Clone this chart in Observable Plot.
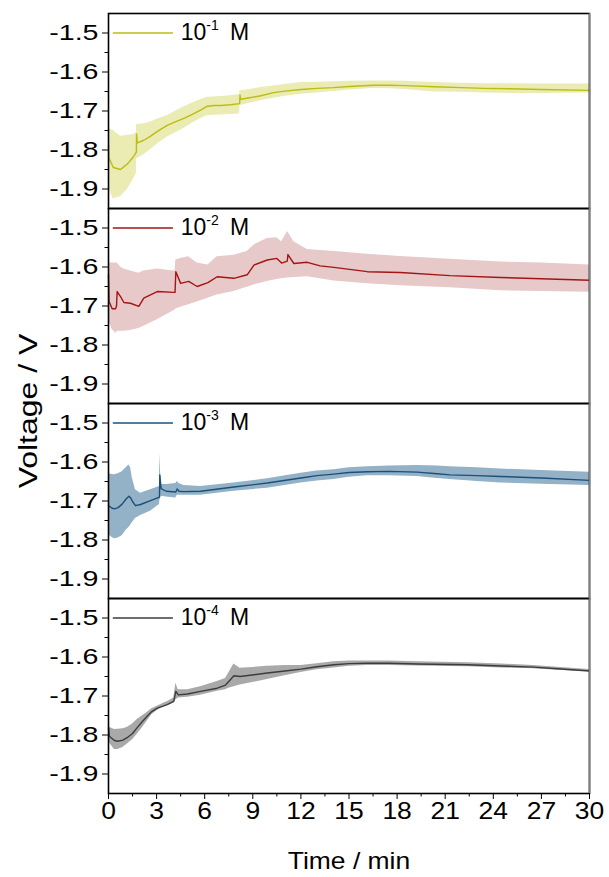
<!DOCTYPE html>
<html>
<head>
<meta charset="utf-8">
<script src="https://cdn.jsdelivr.net/npm/d3@7"></script>
<script src="https://cdn.jsdelivr.net/npm/@observablehq/plot@0.6"></script>
<style>
  body { margin: 0; background: #fff; }
  #chart { width: 609px; height: 877px; }
</style>
</head>
<body>
<div id="chart"></div>
<script>
// ---- series names / legend labels ----
const seriesNames = ["c1", "c2", "c3", "c4"];
const legendLabels = ["10^-1^ M", "10^-2^ M", "10^-3^ M", "10^-4^ M"];

// ---- tick labels ----
const xTicks = [0, 3, 6, 9, 12, 15, 18, 21, 24, 27, 30];
const xMinorTicks = [1.5, 4.5, 7.5, 10.5, 13.5, 16.5, 19.5, 22.5, 25.5, 28.5];
const yTicks = [-1.5, -1.6, -1.7, -1.8, -1.9];
const yMinorTicks = [-1.55, -1.65, -1.75, -1.85];

// ---- 10^-1 M ----
const t1 =  [0, 0.02, 0.3, 0.75, 1.2, 1.58, 1.74, 1.75, 1.8, 2.2, 2.6, 3.1, 3.66, 4.2, 4.7, 5.2, 5.74, 6.15, 6.6, 7.0, 7.6, 8.18, 8.2, 8.25, 8.8, 9.5, 10.3, 11, 12, 13, 14, 15, 16.5, 17.5, 18.5, 20.3, 22, 23.4, 25, 27, 30];
const v1 =  [-1.788, -1.82, -1.845, -1.85, -1.835, -1.816, -1.805, -1.759, -1.782, -1.775, -1.765, -1.751, -1.737, -1.727, -1.719, -1.709, -1.698, -1.688, -1.686, -1.686, -1.684, -1.681, -1.659, -1.670, -1.666, -1.661, -1.653, -1.649, -1.645, -1.642, -1.640, -1.637, -1.634, -1.634, -1.635, -1.638, -1.640, -1.642, -1.643, -1.645, -1.647];
const hi1 = [-1.72, -1.745, -1.75, -1.765, -1.762, -1.76, -1.755, -1.733, -1.735, -1.733, -1.729, -1.72, -1.712, -1.70, -1.69, -1.68, -1.671, -1.665, -1.664, -1.663, -1.661, -1.658, -1.648, -1.648, -1.645, -1.640, -1.636, -1.632, -1.627, -1.626, -1.625, -1.624, -1.623, -1.623, -1.624, -1.627, -1.629, -1.630, -1.630, -1.631, -1.631];
const lo1 = [-1.86, -1.90, -1.925, -1.92, -1.90, -1.873, -1.86, -1.822, -1.822, -1.812, -1.80, -1.783, -1.767, -1.755, -1.745, -1.732, -1.719, -1.712, -1.711, -1.71, -1.709, -1.708, -1.686, -1.686, -1.680, -1.674, -1.667, -1.662, -1.657, -1.654, -1.650, -1.646, -1.642, -1.643, -1.645, -1.651, -1.652, -1.654, -1.655, -1.655, -1.654];

// ---- 10^-2 M ----
const t2 =  [0, 0.03, 0.23, 0.44, 0.5, 0.54, 0.75, 0.96, 1.37, 1.89, 2.2, 3.04, 4.07, 4.15, 4.2, 4.5, 5.0, 5.53, 6.2, 6.78, 7.82, 8.65, 9.07, 9.9, 10.5, 10.8, 11.15, 11.19, 11.56, 12.4, 13.2, 14.06, 16.14, 18.2, 21.3, 24.45, 27, 30];
const v2 =  [-1.62, -1.688, -1.707, -1.707, -1.70, -1.663, -1.676, -1.691, -1.693, -1.701, -1.68, -1.663, -1.665, -1.665, -1.612, -1.642, -1.637, -1.650, -1.640, -1.625, -1.629, -1.62, -1.595, -1.582, -1.578, -1.59, -1.585, -1.568, -1.591, -1.588, -1.597, -1.601, -1.612, -1.614, -1.622, -1.627, -1.630, -1.634];
const hi2 = [-1.59, -1.59, -1.59, -1.59, -1.59, -1.59, -1.60, -1.605, -1.61, -1.616, -1.61, -1.605, -1.61, -1.61, -1.582, -1.578, -1.574, -1.59, -1.595, -1.574, -1.57, -1.56, -1.544, -1.527, -1.525, -1.535, -1.51, -1.51, -1.535, -1.555, -1.558, -1.56, -1.567, -1.573, -1.58, -1.587, -1.59, -1.595];
const lo2 = [-1.70, -1.74, -1.76, -1.769, -1.77, -1.765, -1.765, -1.765, -1.763, -1.758, -1.752, -1.735, -1.712, -1.71, -1.708, -1.703, -1.697, -1.69, -1.68, -1.672, -1.663, -1.652, -1.646, -1.637, -1.632, -1.63, -1.628, -1.628, -1.627, -1.625, -1.63, -1.636, -1.643, -1.648, -1.653, -1.661, -1.663, -1.665];

// ---- 10^-3 M ----
const t3 =  [0, 0.2, 0.37, 0.6, 0.85, 1.1, 1.27, 1.38, 1.48, 1.68, 2.0, 2.62, 3.18, 3.2, 3.28, 3.6, 4.2, 4.28, 4.4, 4.7, 5.74, 7.82, 9.9, 12, 13, 14.06, 15, 16.14, 17.5, 19.25, 20.5, 21.3, 23, 24.45, 27, 30];
const v3 =  [-1.712, -1.718, -1.72, -1.717, -1.708, -1.695, -1.688, -1.692, -1.70, -1.712, -1.709, -1.699, -1.69, -1.633, -1.668, -1.675, -1.677, -1.669, -1.675, -1.676, -1.675, -1.664, -1.654, -1.641, -1.635, -1.631, -1.627, -1.625, -1.624, -1.626, -1.630, -1.633, -1.635, -1.637, -1.641, -1.647];
const hi3 = [-1.629, -1.632, -1.633, -1.63, -1.625, -1.615, -1.608, -1.615, -1.64, -1.671, -1.68, -1.671, -1.663, -1.578, -1.658, -1.658, -1.655, -1.65, -1.655, -1.66, -1.663, -1.654, -1.643, -1.629, -1.623, -1.620, -1.615, -1.612, -1.610, -1.609, -1.610, -1.612, -1.615, -1.618, -1.622, -1.626];
const lo3 = [-1.786, -1.793, -1.797, -1.795, -1.789, -1.775, -1.768, -1.762, -1.756, -1.745, -1.737, -1.726, -1.709, -1.70, -1.688, -1.690, -1.692, -1.685, -1.685, -1.685, -1.685, -1.675, -1.667, -1.654, -1.649, -1.645, -1.639, -1.635, -1.635, -1.637, -1.642, -1.645, -1.650, -1.654, -1.657, -1.660];

// ---- 10^-4 M ----
const t4 =  [0, 0.05, 0.37, 0.58, 0.9, 1.16, 1.5, 1.79, 2.1, 2.41, 2.7, 3.04, 3.4, 3.66, 4.07, 4.2, 4.35, 4.93, 5.74, 6.78, 7.3, 7.5, 7.82, 8.2, 9.9, 11, 12, 13, 14.06, 15, 16.14, 17.5, 19.25, 22.4, 24.5, 26.5, 28, 30];
const v4 =  [-1.781, -1.803, -1.814, -1.816, -1.813, -1.807, -1.796, -1.781, -1.766, -1.752, -1.740, -1.731, -1.726, -1.722, -1.714, -1.688, -1.697, -1.695, -1.688, -1.680, -1.672, -1.663, -1.648, -1.650, -1.641, -1.636, -1.631, -1.625, -1.620, -1.617, -1.616, -1.616, -1.618, -1.620, -1.623, -1.626, -1.630, -1.636];
const hi4 = [-1.76, -1.78, -1.786, -1.785, -1.784, -1.781, -1.772, -1.76, -1.751, -1.742, -1.733, -1.726, -1.719, -1.715, -1.705, -1.667, -1.684, -1.684, -1.676, -1.663, -1.655, -1.641, -1.618, -1.629, -1.624, -1.622, -1.622, -1.617, -1.612, -1.610, -1.610, -1.610, -1.612, -1.615, -1.618, -1.622, -1.626, -1.632];
const lo4 = [-1.80, -1.82, -1.837, -1.837, -1.832, -1.824, -1.812, -1.798, -1.782, -1.765, -1.748, -1.737, -1.729, -1.725, -1.718, -1.71, -1.705, -1.703, -1.698, -1.688, -1.684, -1.68, -1.676, -1.672, -1.658, -1.648, -1.640, -1.633, -1.628, -1.624, -1.622, -1.622, -1.623, -1.625, -1.628, -1.630, -1.634, -1.638];

const times = [t1, t2, t3, t4];
const means = [v1, v2, v3, v4];
const highs = [hi1, hi2, hi3, hi4];
const lows  = [lo1, lo2, lo3, lo4];

const lineColors = ["#bcbc12", "#a31414", "#1d5079", "#3c3c3c"];
const bandColors = ["#ebecb3", "#e7c9c9", "#93b1c7", "#a9a9a9"];

const rows = [];
seriesNames.forEach((s, i) => {
  times[i].forEach((t, j) => rows.push({series: s, t, v: means[i][j], lo: lows[i][j], hi: highs[i][j]}));
});
const legendRows = seriesNames.map((s, i) => ({series: s, label: legendLabels[i]}));

const FONT = "'Liberation Sans', Arial, sans-serif";
const marks = [];
seriesNames.forEach((s, i) => {
  const d = rows.filter(r => r.series === s);
  marks.push(Plot.areaY(d, {x: "t", y1: "lo", y2: "hi", fy: "series", fill: bandColors[i]}));
  marks.push(Plot.line(d, {x: "t", y: "v", fy: "series", stroke: lineColors[i], strokeWidth: 1.4}));
  const lg = legendRows.filter(r => r.series === s);
  marks.push(Plot.ruleY(lg, {y: -1.5, x1: 0.3, x2: 4.05, fy: "series", stroke: lineColors[i], strokeWidth: 1.3}));
  marks.push(Plot.text(lg, {x: 4.5, y: -1.5, text: "label", fy: "series", textAnchor: "start", fontSize: 23, fill: "#000"}));
});

const chart = Plot.plot({
  width: 609,
  height: 877,
  marginLeft: 108,
  marginRight: 20,
  marginTop: 11,
  marginBottom: 83,
  style: {fontFamily: FONT, fontSize: "22px", color: "#000", background: "#fff"},
  x: {domain: [0, 30]},
  y: {domain: [-1.95, -1.45]},
  fy: {domain: seriesNames, padding: 0, axis: null, label: null},
  marks: [
    ...marks,
    Plot.axisY({ticks: yTicks, tickSize: 6, tickPadding: 4, tickFormat: d => d.toFixed(1), label: null, fontSize: 22, facetAnchor: "left"}),
    Plot.axisY({ticks: yMinorTicks, tickSize: 3.5, tickFormat: () => "", label: null, facetAnchor: "left"}),
    Plot.axisX({ticks: xTicks, tickSize: 6, tickPadding: 3, tickFormat: d => String(d), label: null, fontSize: 23, facetAnchor: "bottom"}),
    Plot.axisX({ticks: xMinorTicks, tickSize: 3.5, tickFormat: () => "", label: null, facetAnchor: "bottom"}),
    Plot.frame({stroke: "#000", strokeWidth: 1.6}),
    Plot.ruleX([30], {stroke: "#808080", strokeWidth: 1.6})
  ]
});

document.getElementById("chart").appendChild(chart);

const svg = d3.select(chart.tagName.toLowerCase() === "svg" ? chart : chart.querySelector("svg"));

// superscript legend labels
svg.selectAll("text").each(function () {
  const s = this.textContent;
  const m = s.match(/^(.*)\^(.*)\^(.*)$/);
  if (!m) return;
  const el = d3.select(this);
  el.text(null);
  el.append("tspan").text(m[1]);
  el.append("tspan").attr("dy", -10).attr("font-size", 14).text(m[2]);
  el.append("tspan").attr("dy", 10).attr("dx", 5).text(m[3]);
});

// widen tick labels like the original export
svg.selectAll('g[aria-label="y-axis tick label"] text').each(function () {
  const tr = this.getAttribute("transform") || "";
  this.setAttribute("transform", tr + " scale(1.3,1)");
});
svg.selectAll('g[aria-label="x-axis tick label"] text').each(function () {
  const tr = this.getAttribute("transform") || "";
  this.setAttribute("transform", tr + " scale(1.15,1)");
});

// axis titles
svg.append("text")
  .attr("transform", "translate(349,869) scale(1.15,1)")
  .attr("text-anchor", "middle")
  .attr("font-family", FONT)
  .attr("font-size", 23)
  .attr("fill", "#000")
  .text("Time / min");
svg.append("text")
  .attr("transform", "translate(37,411) rotate(-90) scale(1.28,1)")
  .attr("text-anchor", "middle")
  .attr("font-family", FONT)
  .attr("font-size", 25)
  .attr("fill", "#000")
  .text("Voltage / V");
</script>
</body>
</html>
